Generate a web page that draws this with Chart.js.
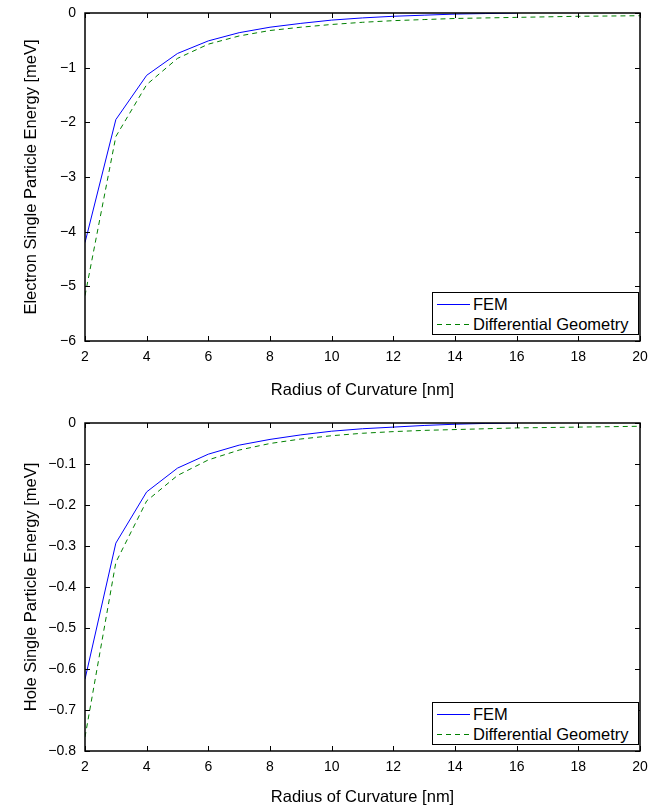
<!DOCTYPE html>
<html>
<head>
<meta charset="utf-8">
<script src="https://cdn.jsdelivr.net/npm/chart.js@4"></script>
<style>
  html, body { margin: 0; padding: 0; background: #fff; }
  body { width: 649px; height: 807px; position: relative; overflow: hidden; font-family: "Liberation Sans", Arial, Helvetica, sans-serif; }
  .plot { position: absolute; left: 0; width: 649px; height: 403px; }
  .legend { position: absolute; border: 1.5px solid #000; background: #fff; font-size: 16.5px; color: #000; box-sizing: border-box; }
  .legend svg { position: absolute; left: 0; top: 0; }
  .legend .tx { position: absolute; left: 40px; line-height: 20px; white-space: nowrap; }
</style>
</head>
<body>
<div class="plot" style="top:0"><canvas id="topChart"></canvas></div>
<div class="plot" style="top:404px"><canvas id="botChart"></canvas></div>

<div class="legend" style="left:432px; top:292px; width:207px; height:43px;">
  <svg width="40" height="40"><line x1="4" y1="11.5" x2="37" y2="11.5" stroke="#0000ff" stroke-width="1"/><line x1="4" y1="31.5" x2="37" y2="31.5" stroke="#008000" stroke-width="1" stroke-dasharray="5,4"/></svg>
  <div class="tx" style="top:1px">FEM</div>
  <div class="tx" style="top:21px">Differential Geometry</div>
</div>
<div class="legend" style="left:432px; top:702px; width:207px; height:43px;">
  <svg width="40" height="40"><line x1="4" y1="11.5" x2="37" y2="11.5" stroke="#0000ff" stroke-width="1"/><line x1="4" y1="31.5" x2="37" y2="31.5" stroke="#008000" stroke-width="1" stroke-dasharray="5,4"/></svg>
  <div class="tx" style="top:1px">FEM</div>
  <div class="tx" style="top:21px">Differential Geometry</div>
</div>

<script>
// radius of curvature [nm]
const radiusFem = [2, 3, 4, 5, 6, 7, 8, 9, 10, 11, 12, 13, 14, 15, 16];
const radiusDg = [2, 3, 4, 5, 6, 7, 8, 9, 10, 11, 12, 13, 14, 15, 16, 17, 18, 19, 20];

// electron single particle energy [meV]
const electronFem = [-4.2, -1.95, -1.14, -0.74, -0.51, -0.36, -0.26, -0.19, -0.13, -0.09, -0.06, -0.04, -0.02, -0.01, 0];
const electronDg = [-5.17, -2.26, -1.31, -0.83, -0.57, -0.42, -0.32, -0.26, -0.21, -0.17, -0.14, -0.12, -0.10, -0.09, -0.08, -0.07, -0.06, -0.055, -0.05];

// hole single particle energy [meV]
const holeFem = [-0.625, -0.293, -0.168, -0.11, -0.076, -0.054, -0.04, -0.029, -0.02, -0.014, -0.01, -0.006, -0.003, -0.001, 0];
const holeDg = [-0.766, -0.34, -0.19, -0.128, -0.09, -0.066, -0.05, -0.039, -0.031, -0.025, -0.021, -0.018, -0.016, -0.014, -0.012, -0.011, -0.010, -0.009, -0.008];

const FONT = '"Liberation Sans", Arial, Helvetica, sans-serif';

function pts(xs, ys) {
    return xs.map((x, i) => ({ x: x, y: ys[i] }));
}

// matlab style box + inward ticks on all four sides
const boxPlugin = {
    id: 'box',
    afterDraw(chart) {
        const ctx = chart.ctx;
        const a = chart.chartArea;
        const xs = chart.scales.x, ys = chart.scales.y;
        const len = 5;
        ctx.save();
        ctx.strokeStyle = '#000';
        ctx.lineWidth = 1;
        ctx.beginPath();
        xs.ticks.forEach((t, i) => {
            const px = Math.round(xs.getPixelForTick(i)) + 0.5;
            ctx.moveTo(px, a.bottom); ctx.lineTo(px, a.bottom - len);
            ctx.moveTo(px, a.top); ctx.lineTo(px, a.top + len);
        });
        ys.ticks.forEach((t, i) => {
            const py = Math.round(ys.getPixelForTick(i)) + 0.5;
            ctx.moveTo(a.left, py); ctx.lineTo(a.left + len, py);
            ctx.moveTo(a.right, py); ctx.lineTo(a.right - len, py);
        });
        ctx.stroke();
        ctx.lineWidth = 1.5;
        ctx.strokeRect(a.left, a.top, a.right - a.left, a.bottom - a.top);
        ctx.restore();
    }
};

function makeChart(id, fem, dg, yMin, yStep, yTitle, padTop, xTitlePad, xAxisH, decimals) {
    return new Chart(document.getElementById(id), {
        type: 'line',
        data: {
            datasets: [{
                label: 'FEM',
                data: pts(radiusFem, fem),
                borderColor: '#0000ff',
                borderWidth: 1,
                pointRadius: 0,
                tension: 0,
                fill: false
            }, {
                label: 'Differential Geometry',
                data: pts(radiusDg, dg),
                borderColor: '#008000',
                borderWidth: 1,
                borderDash: [5, 4],
                pointRadius: 0,
                tension: 0,
                fill: false
            }]
        },
        options: {
            responsive: true,
            maintainAspectRatio: false,
            animation: false,
            layout: { padding: { top: padTop, right: 9, left: 0, bottom: 0 } },
            plugins: { legend: { display: false }, tooltip: { enabled: false } },
            scales: {
                x: {
                    type: 'linear',
                    min: 2, max: 20,
                    grid: { display: false, drawTicks: false },
                    border: { display: false },
                    ticks: { stepSize: 2, padding: 8, color: '#000', font: { family: FONT, size: 14 } },
                    title: { display: true, text: 'Radius of Curvature [nm]', color: '#000', font: { family: FONT, size: 16.5 }, padding: { top: 0, bottom: xTitlePad } },
                    afterFit(s) { s.height = xAxisH; s.paddingLeft = 0; s.paddingRight = 0; }
                },
                y: {
                    min: yMin, max: 0,
                    grid: { display: false, drawTicks: false },
                    border: { display: false },
                    ticks: {
                        stepSize: yStep, padding: 9, color: '#000', font: { family: FONT, size: 14 },
                        callback: v => (Math.abs(v) < 1e-9 ? '0' : '\u2212' + Math.abs(v).toFixed(decimals))
                    },
                    title: { display: true, text: yTitle, color: '#000', font: { family: FONT, size: 16.5 }, padding: { top: 22, bottom: 0 } },
                    afterFit(s) { s.width = 85; s.paddingTop = 0; s.paddingBottom = 0; }
                }
            }
        },
        plugins: [boxPlugin]
    });
}

makeChart('topChart', electronFem, electronDg, -6, 1, 'Electron Single Particle Energy [meV]', 13, 3, 62, 0);
makeChart('botChart', holeFem, holeDg, -0.8, 0.1, 'Hole Single Particle Energy [meV]', 19, 0, 56, 1);
</script>
</body>
</html>
